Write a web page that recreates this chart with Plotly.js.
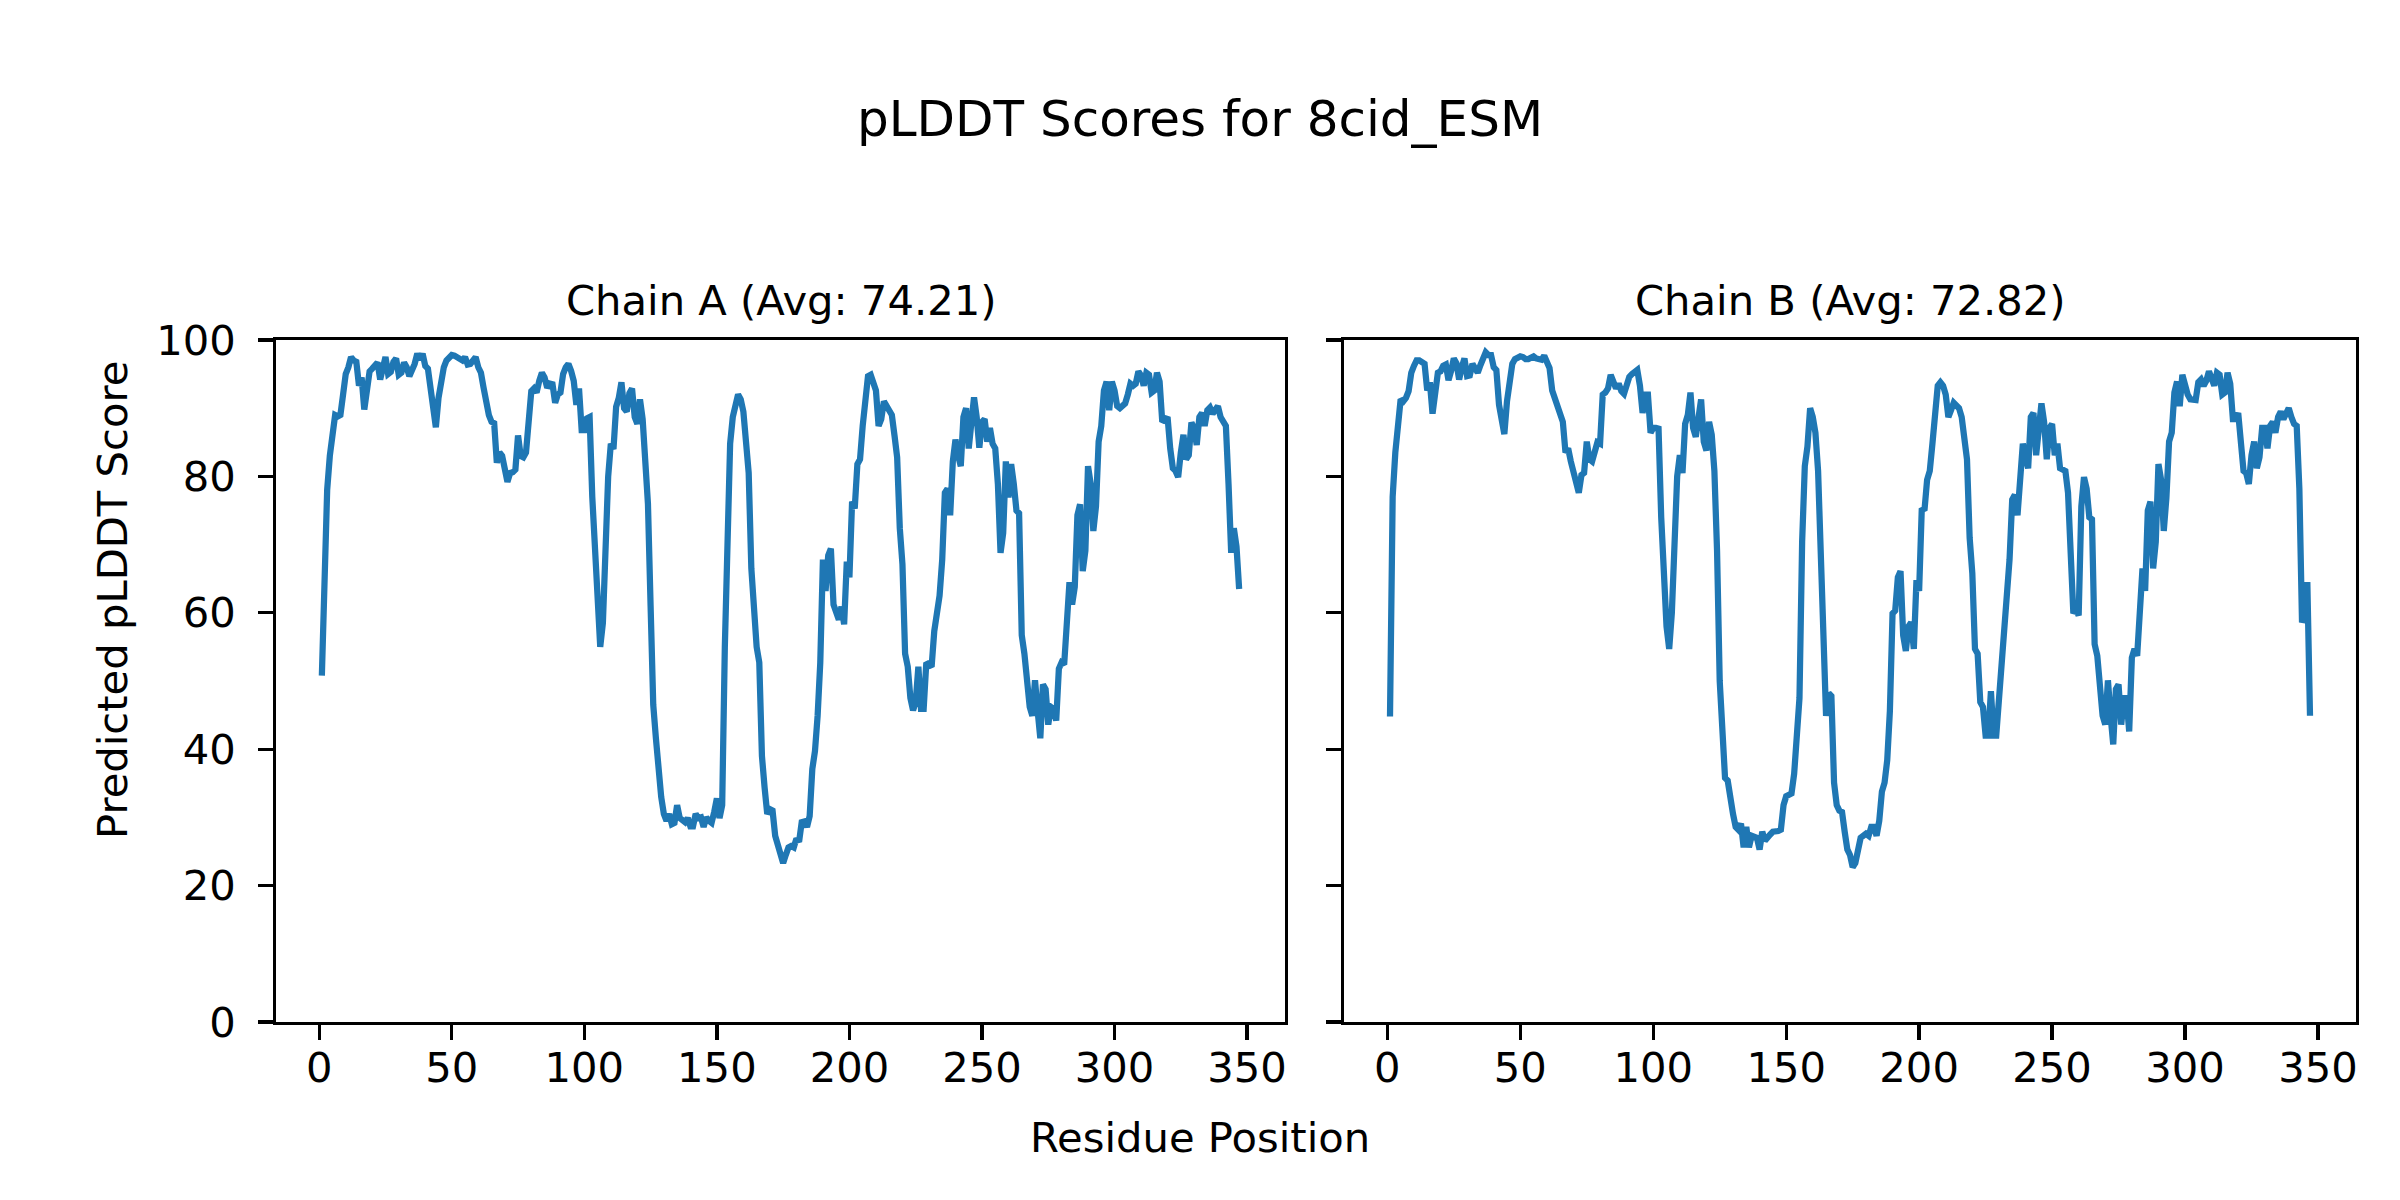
<!DOCTYPE html>
<html>
<head>
<meta charset="utf-8">
<script src="https://cdn.plot.ly/plotly-3.0.1.min.js"></script>
<style>html,body{margin:0;padding:0;background:#fff;}#chart{width:2400px;height:1200px;}</style>
</head>
<body>
<div id="chart"></div>
<script>
const figureTitle = "pLDDT Scores for 8cid_ESM";
const chainTitles = ["Chain A (Avg: 74.21)", "Chain B (Avg: 72.82)"];
const xLabel = "Residue Position";
const yLabel = "Predicted pLDDT Score";
const xTicks = [0, 50, 100, 150, 200, 250, 300, 350];
const yTicks = [0, 20, 40, 60, 80, 100];

const chainA = [
50.8, 68, 78, 83, 86.5, 89, 88.8, 89, 92, 95,
96, 97.5, 97, 96.8, 93.3, 94.5, 89.8, 92.5, 95.4, 95.8,
96.4, 96.7, 94.2, 95.5, 97.5, 95, 95.3, 96.8, 97.3, 94.9,
95.2, 96.7, 96, 94.7, 95.5, 96.5, 98, 97.1, 98, 96.2,
95.8, 92.5, 89.5, 87.2, 91.5, 94.5, 96, 97, 97.5, 97.8,
97.7, 97.4, 97.2, 97, 97.5, 96.4, 96.5, 97, 97.5, 96,
95.2, 93, 90.7, 89, 88, 87.8, 82, 83.5, 83, 80.8,
79.2, 80.5, 80.6, 81, 86, 83, 82.8, 83.5, 89, 92.5,
92.9, 92.3, 94, 95.2, 94.5, 93, 93.6, 93.5, 90.8, 92,
92.3, 95, 96, 96.5, 95.5, 94, 90.5, 92.9, 86.8, 86.8,
88.5, 88.7, 77, 70, 63, 55, 58.5, 72, 80, 84.8,
84, 90.2, 91.5, 93.8, 90, 89.5, 92.2, 92.9, 88.7, 87.7,
91.3, 88.4, 81.5, 76, 61, 46.5, 41.6, 35.5, 33, 30.5,
29.5, 30.5, 29, 29.2, 31.8, 29.9, 29.5, 29.3, 29.9, 28.7,
28.7, 30.5, 29.9, 30, 28.6, 30, 29.5, 29.2, 30.8, 32.8,
29.9, 31.8, 55, 68, 84.8, 88.7, 91, 92, 91.3, 89.5,
85, 80.5, 66.5, 60, 55, 52.7, 39, 34.4, 30.5, 31.2,
31, 27.3, 26, 25, 23.3, 24.5, 25.6, 25.8, 25.6, 26.9,
26.4, 29.3, 29.4, 28.6, 30.2, 37.1, 39.7, 44.9, 52.7, 67.8,
63.2, 68.4, 69.4, 61.2, 60.3, 59, 60.9, 58.3, 67.5, 65.2,
76.3, 75.3, 81.8, 82.5, 87.4, 91.3, 94.7, 94.9, 93.9, 92.6,
87.4, 88.4, 91, 90.3, 89.5, 89, 86, 82.8, 72.4, 67.1,
54, 52.1, 47.5, 45.7, 46.9, 52.1, 45.9, 45.9, 52.7, 52.5,
52.1, 57.3, 59.3, 62.5, 67.8, 77.6, 78.2, 74.3, 82.2, 85.4,
83.1, 81.5, 88.7, 90, 84.1, 87.4, 91.6, 88.7, 84.2, 88,
88.4, 85.1, 87.1, 84.8, 84.1, 78.9, 68.8, 71.7, 82.2, 76.9,
81.8, 78.9, 75, 74.6, 56.7, 54, 48.8, 46.2, 44.9, 50.1,
45.6, 41.6, 49.5, 48.8, 43.6, 46.2, 45.9, 44.2, 51.8, 52.7,
52.4, 57.3, 64.5, 61.2, 63.8, 74.3, 75.9, 66.1, 69.1, 81.5,
78.9, 72, 75.6, 85.1, 87.4, 92.6, 93.9, 89.7, 93.9, 92.6,
90.3, 90, 90.3, 90.7, 92, 93.6, 93.3, 93.6, 95.4, 94.8,
93.3, 95.2, 94.9, 92.3, 92.6, 95.2, 93.9, 88, 88.3, 88.7,
84.1, 81.2, 80.8, 79.9, 83.5, 86.1, 82.5, 83.1, 87.9, 87.1,
84.6, 88.7, 89.3, 87.4, 89.7, 90.1, 89.2, 89.8, 90.3, 88.7,
88, 87.4, 78.9, 68.8, 72.4, 69.7, 63.5
];

const chainB = [
44.8, 77, 83.5, 87, 91.3, 91, 91.5, 92.5, 95.2, 96.2,
97, 97, 96.7, 96.5, 92.6, 93.8, 89.2, 93, 95.2, 95.4,
96.2, 96.4, 94.1, 95.5, 97.3, 96.6, 94.2, 96, 97.3, 94.7,
94.8, 96.5, 96, 95.2, 96.3, 97.5, 98.2, 97.8, 97.8, 96,
95.6, 90.5, 88.5, 86.2, 91, 94.2, 96.5, 97.2, 97.4, 97.6,
97.5, 97.2, 97.2, 97.5, 97.6, 97.3, 97.3, 97.1, 97.7, 96.5,
95.9, 92.6, 91.6, 90.3, 89, 88, 83.5, 84.1, 82.2, 80.5,
78.5, 77.6, 80.2, 80.5, 85.1, 82.5, 82.2, 84, 85, 84.8,
92, 92.3, 92.9, 94.9, 94, 92.9, 93.6, 92.5, 92.1, 93.3,
94.6, 95, 95.4, 95.6, 93.3, 89.3, 92, 92, 86.4, 87.1,
87.1, 87, 74, 63, 58, 54.7, 60, 70, 80, 83.1,
80.5, 87.7, 89, 92.3, 87.1, 85.8, 89.7, 91.3, 85.1, 83.8,
88, 86.1, 80.8, 69.1, 50, 42.9, 35.8, 35.4, 32.5, 30.5,
28.6, 28.2, 29.1, 25.6, 28.6, 25.6, 27.3, 27.1, 27, 25.3,
27.9, 26.6, 27.2, 27.5, 27.9, 27.9, 28, 28.2, 31.8, 33.1,
33.3, 33.5, 36.4, 42.9, 47.5, 70.4, 81.5, 84.4, 90, 88.7,
86.4, 80.8, 70.4, 61.2, 44.9, 48.2, 47.8, 35.1, 31.8, 31,
30.8, 27.9, 25.3, 24.5, 22.7, 23.3, 25.3, 27, 27.3, 27.6,
27.3, 28.6, 28.6, 27.3, 29.5, 33.8, 35.1, 38.4, 45.6, 59.9,
60.3, 65.2, 66.1, 56.7, 54.4, 58, 58.6, 54.7, 64.8, 63.2,
75.3, 75, 79.5, 80.8, 84.8, 89, 93.3, 93.8, 93.3, 92,
88.7, 89.7, 90.8, 90.4, 90, 88.7, 85.4, 82.5, 71, 65.8,
54.7, 54, 46.9, 46.2, 42, 42, 48.5, 42, 42, 46.9,
53.4, 57.3, 60.6, 67.8, 76.6, 77.3, 74.3, 81.5, 84.8, 82.8,
81.2, 88.7, 89.3, 83.1, 88, 90.7, 88, 82.5, 87.1, 87.7,
83.1, 84.8, 81.2, 81, 80.8, 77.6, 67.8, 59.9, 60.6, 59.6,
75.6, 79.9, 78.2, 74, 73.7, 55.4, 53.7, 48.2, 44.9, 43.6,
50.1, 44.9, 40.7, 48.8, 49.5, 43.6, 47.5, 47.5, 42.6, 53.4,
54.7, 53.7, 59.9, 66.5, 63.2, 75, 76.3, 66.5, 70.4, 81.8,
79.5, 72, 76.9, 85.1, 86.4, 92.3, 93.9, 90.3, 94.9, 93.3,
92, 91.3, 91.2, 91.2, 93.8, 94.2, 93.3, 94, 95.4, 94.5,
93.3, 95.2, 94.9, 92, 92.3, 95.2, 93.6, 88.4, 88.4, 89.3,
84.8, 80.8, 80.5, 78.9, 83.1, 85.1, 81.2, 82.8, 87.1, 87.1,
84.1, 87.4, 88, 86.4, 88.7, 89.5, 88.4, 89.2, 90, 88.7,
87.7, 87.4, 78.2, 58.6, 59.6, 64.5, 44.9
];

const residuesA = chainA.map((_, i) => i + 1);
const residuesB = chainB.map((_, i) => i + 1);

const FONT = "DejaVu Sans, Liberation Sans, sans-serif";
const LINE = "#1f77b4";
const W = 2400, H = 1200;

const traces = [
  {x: residuesA, y: chainA, type: "scatter", mode: "lines", xaxis: "x", yaxis: "y",
   line: {color: LINE, width: 6.25}, showlegend: false, hoverinfo: "x+y"},
  {x: residuesB, y: chainB, type: "scatter", mode: "lines", xaxis: "x2", yaxis: "y2",
   line: {color: LINE, width: 6.25}, showlegend: false, hoverinfo: "x+y"}
];

const axBase = {
  showgrid: false, zeroline: false, showline: true, mirror: true,
  linecolor: "#000", linewidth: 3.3, ticks: "outside", ticklen: 14.6, tickwidth: 3.3,
  tickcolor: "#000", tickfont: {family: FONT, size: 41.7, color: "#000"}
};

const xRange = [-16.3, 364.3];
const yDomain = [1 - 1022 / H, 1 - 340 / H];

const layout = {
  width: W, height: H,
  margin: {l: 0, r: 0, t: 0, b: 0},
  paper_bgcolor: "#fff", plot_bgcolor: "#fff",
  font: {family: FONT, color: "#000"},
  title: {text: figureTitle, x: 0.5, xanchor: "center", y: 1 - 118 / H, yanchor: "middle",
          xref: "paper", yref: "container", font: {family: FONT, size: 50, color: "#000"}},
  xaxis: Object.assign({}, axBase, {domain: [276 / W, 1285 / W], range: xRange, tickvals: xTicks, anchor: "y", ticklabelstandoff: -8}),
  yaxis: Object.assign({}, axBase, {domain: yDomain, range: [0, 100], tickvals: yTicks, anchor: "x", ticklabelstandoff: 14}),
  xaxis2: Object.assign({}, axBase, {domain: [1344 / W, 2356 / W], range: xRange, tickvals: xTicks, anchor: "y2", ticklabelstandoff: -8}),
  yaxis2: Object.assign({}, axBase, {domain: yDomain, range: [0, 100], tickvals: yTicks, anchor: "x2", showticklabels: false}),
  annotations: [
    {text: chainTitles[0], xref: "paper", yref: "paper", x: (276 + 1285) / 2 / W, y: 1 - 300 / H,
     xanchor: "center", yanchor: "middle", showarrow: false, font: {family: FONT, size: 41.7, color: "#000"}},
    {text: chainTitles[1], xref: "paper", yref: "paper", x: (1344 + 2356) / 2 / W, y: 1 - 300 / H,
     xanchor: "center", yanchor: "middle", showarrow: false, font: {family: FONT, size: 41.7, color: "#000"}},
    {text: xLabel, xref: "paper", yref: "paper", x: 0.5, y: 1 - 1137 / H,
     xanchor: "center", yanchor: "middle", showarrow: false, font: {family: FONT, size: 41.7, color: "#000"}},
    {text: yLabel, xref: "paper", yref: "paper", x: 112 / W, y: 0.5, textangle: -90,
     xanchor: "center", yanchor: "middle", showarrow: false, font: {family: FONT, size: 41.7, color: "#000"}}
  ]
};

Plotly.newPlot("chart", traces, layout, {displayModeBar: false, staticPlot: true});
</script>
</body>
</html>
